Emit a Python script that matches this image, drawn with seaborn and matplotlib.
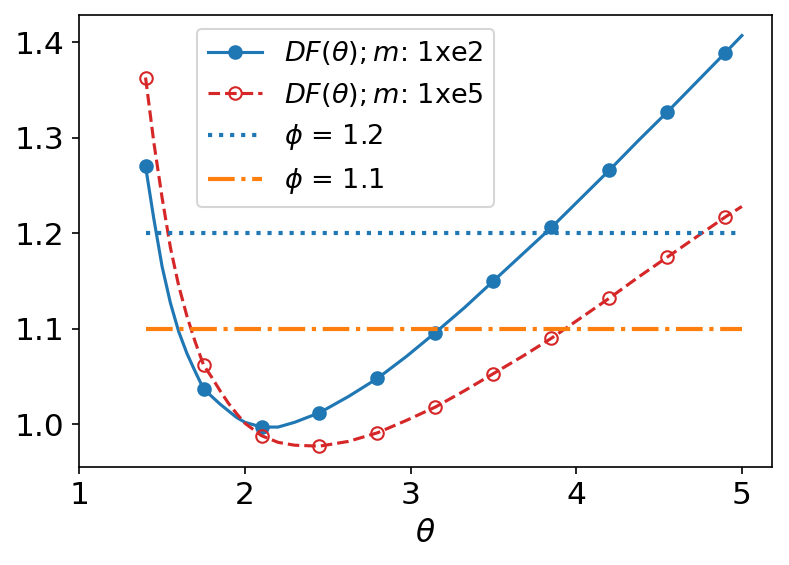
import numpy as np
import matplotlib
matplotlib.use('Agg')
import matplotlib.pyplot as plt
import seaborn as sns


# ─────────────────────────────────────────────
# DATA
# ─────────────────────────────────────────────

theta = [1.40, 1.45, 1.50, 1.55, 1.60, 1.65, 1.70, 1.75, 1.80, 1.85, 1.90, 1.95, 2.00,
         2.10, 2.20, 2.30, 2.45, 2.625, 2.80, 2.975, 3.15, 3.325, 3.50, 3.675, 3.85,
         4.025, 4.20, 4.375, 4.55, 4.725, 4.90, 5.00]

# DF(theta) for m = 1e2
df_m2 = [1.270, 1.215, 1.165, 1.127, 1.097, 1.074, 1.055, 1.037, 1.029, 1.021, 1.014,
         1.007, 1.002, 0.997, 0.997, 1.002, 1.012, 1.029, 1.048, 1.071, 1.096, 1.122,
         1.150, 1.178, 1.206, 1.236, 1.266, 1.297, 1.327, 1.358, 1.389, 1.407]

# DF(theta) for m = 1e5
df_m5 = [1.363, 1.295, 1.237, 1.185, 1.145, 1.113, 1.086, 1.062, 1.049, 1.035, 1.022,
         1.011, 1.001, 0.988, 0.981, 0.978, 0.977, 0.982, 0.991, 1.004, 1.018, 1.035,
         1.053, 1.071, 1.090, 1.111, 1.132, 1.154, 1.175, 1.196, 1.217, 1.228]

theta_marks = [1.40, 1.75, 2.10, 2.45, 2.80, 3.15, 3.50, 3.85, 4.20, 4.55, 4.90]

phi_levels = [1.2, 1.1]
phi_labels = [r'$\phi$ = 1.2', r'$\phi$ = 1.1']

# marker positions inside the dense theta list
mark_idx = [i for i, t in enumerate(theta) if np.isclose(theta_marks, t).any()]


# ─────────────────────────────────────────────
# PLOT
# ─────────────────────────────────────────────

W, H, DPI = 789, 565, 150
fig = plt.figure(figsize=(W / DPI, H / DPI), dpi=DPI)
ax = fig.add_axes([79.3 / W, 1 - 466.7 / H, (771.7 - 79.3) / W, (466.7 - 15) / H])

sns.lineplot(x=theta, y=df_m2, ax=ax, color='tab:blue', linestyle='-', linewidth=1.5,
             marker='o', markersize=6, markevery=mark_idx,
             markeredgecolor='tab:blue', markeredgewidth=1.0,
             label=r'$DF(\theta); m$: 1xe2')
sns.lineplot(x=theta, y=df_m5, ax=ax, color='tab:red', linestyle='--', linewidth=1.5,
             marker='o', markersize=6, markevery=mark_idx,
             markerfacecolor='none', markeredgecolor='tab:red', markeredgewidth=1.0,
             label=r'$DF(\theta); m$: 1xe5')

# horizontal reference levels
sns.lineplot(x=[theta[0], theta[-1]], y=[phi_levels[0]] * 2, ax=ax,
             color='tab:blue', linestyle=':', linewidth=2, label=phi_labels[0])
sns.lineplot(x=[theta[0], theta[-1]], y=[phi_levels[1]] * 2, ax=ax,
             color='tab:orange', linestyle='-.', linewidth=2, label=phi_labels[1])

ax.set_xlim(left=1)
ax.set_xticks([1, 2, 3, 4, 5])
ax.set_xlabel(r'$\theta$', fontsize=15)
ax.set_ylabel('')
ax.tick_params(labelsize=15)

ax.legend(loc='upper left', bbox_to_anchor=(0.17, 0.97), borderaxespad=0, fontsize=13)

fig.savefig('out.png', dpi=DPI)
